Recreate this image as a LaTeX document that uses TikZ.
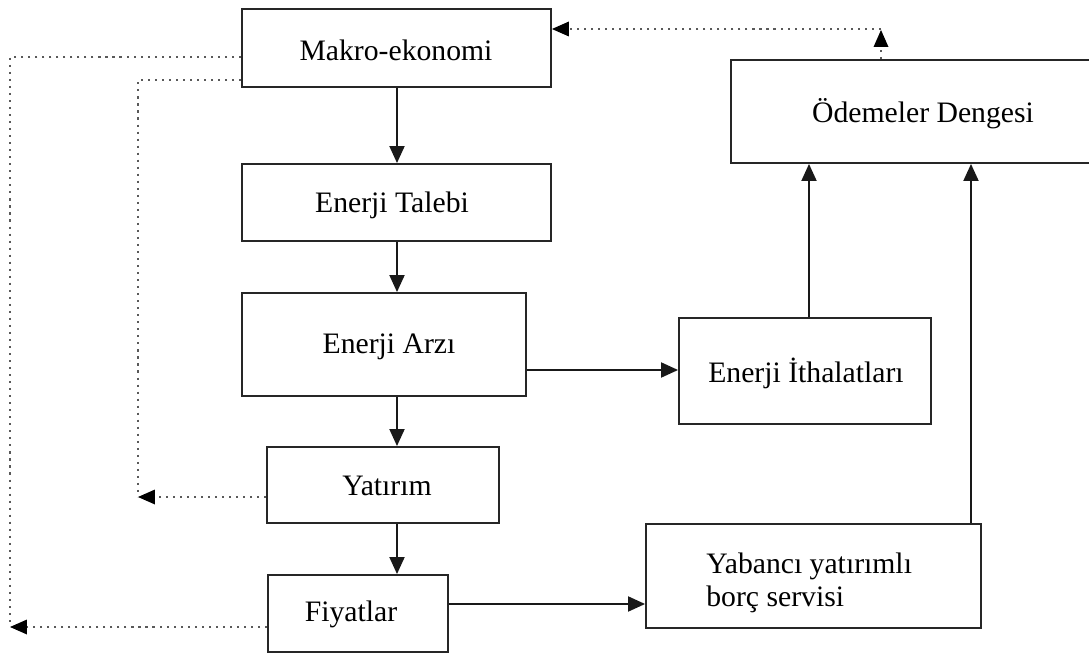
\documentclass[tikz,border=0pt]{standalone}
\usepackage{fontspec}
\setmainfont{Liberation Serif}
\usetikzlibrary{arrows.meta}
\begin{document}
\begin{tikzpicture}[x=0.02cm,y=-0.02cm,
  boxnode/.style={draw=black!85,line width=1.1pt,fill=white,inner sep=0pt},
  lbl/.style={inner sep=0pt,font=\fontsize{16.9}{20}\selectfont},
  solidarrow/.style={draw=black!90,line width=1.1pt,-{Triangle[length=0.34cm,width=0.3cm]}},
  dotline/.style={draw=black!65,line width=1.4pt,dash pattern=on 1.2pt off 2.8pt},
  dotarrow/.style={dotline,-{Triangle[length=0.34cm,width=0.3cm,color=black,line width=0pt]}}]
\clip (0,0) rectangle (1089,655);
\useasboundingbox (0,0) rectangle (1089,655);
\fill[white] (0,0) rectangle (1089,655);
% boxes
\node[boxnode,minimum width=6.18cm,minimum height=1.56cm] (mak) at (396.5,48) {};
\node[boxnode,minimum width=6.18cm,minimum height=1.54cm] (tal) at (396.5,202.5) {};
\node[boxnode,minimum width=5.68cm,minimum height=2.06cm] (arz) at (384,344.5) {};
\node[boxnode,minimum width=4.64cm,minimum height=1.52cm] (yat) at (383,485) {};
\node[boxnode,minimum width=3.60cm,minimum height=1.54cm] (fiy) at (358,613.5) {};
\node[boxnode,minimum width=7.60cm,minimum height=2.06cm] (ode) at (921,111.5) {};
\node[boxnode,minimum width=5.04cm,minimum height=2.12cm] (ith) at (805,371) {};
\node[boxnode,minimum width=6.70cm,minimum height=2.08cm] (yab) at (813.5,576) {};
% texts
\node[lbl] (tmak) at (396,50) {Makro-ekonomi};
\node[lbl] (ttal) at (392,205) {Enerji Talebi};
\node[lbl] (tarz) at (389,347) {Enerji Arzı};
\node[lbl] (tyat) at (387,486) {Yatırım};
\node[lbl] (tfiy) at (351,614) {Fiyatlar};
\node[lbl] (tode) at (923,114) {Ödemeler Dengesi};
\node[lbl] (tith) at (806,373) {Enerji İthalatları};
\node[lbl,anchor=west] (tyab1) at (706,566) {Yabancı yatırımlı};
\node[lbl,anchor=west] (tyab2) at (706,599) {borç servisi};
% helper coordinates
\coordinate (vx) at (397,0);
\coordinate (ix) at (809,0);
\coordinate (yx) at (971,0);
\coordinate (ox) at (881,0);
\coordinate (outerx) at (10,0);
\coordinate (innerx) at (138,0);
\coordinate (topy) at (0,29);
\coordinate (tipup) at (881,30);
\coordinate (turn) at (881,29);
\coordinate (oa) at (0,57);
\coordinate (ia) at (0,80);
\coordinate (ya) at (0,497);
\coordinate (fa) at (0,627);
\coordinate (ay) at (0,370);
\coordinate (fy) at (0,604);
% solid arrows
\draw[solidarrow] (mak.south -| vx) -- (tal.north -| vx);
\draw[solidarrow] (tal.south -| vx) -- (arz.north -| vx);
\draw[solidarrow] (arz.south -| vx) -- (yat.north -| vx);
\draw[solidarrow] (yat.south -| vx) -- (fiy.north -| vx);
\draw[solidarrow] (arz.east |- ay) -- (ith.west |- ay);
\draw[solidarrow] (fiy.east |- fy) -- (yab.west |- fy);
\draw[solidarrow] (ith.north -| ix) -- (ode.south -| ix);
\draw[solidarrow] (yab.north -| yx) -- (ode.south -| yx);
% dotted feedback lines
\draw[dotline] (mak.west |- oa) -- (outerx |- oa) -- (outerx |- fa);
\draw[dotarrow] (fiy.west |- fa) -- (outerx |- fa);
\draw[dotline] (mak.west |- ia) -- (innerx |- ia) -- (innerx |- ya);
\draw[dotarrow] (yat.west |- ya) -- (innerx |- ya);
\draw[dotarrow] (ode.north -| ox) -- (tipup);
\draw[dotarrow] (turn) -- (mak.east |- topy);
\end{tikzpicture}
\end{document}
